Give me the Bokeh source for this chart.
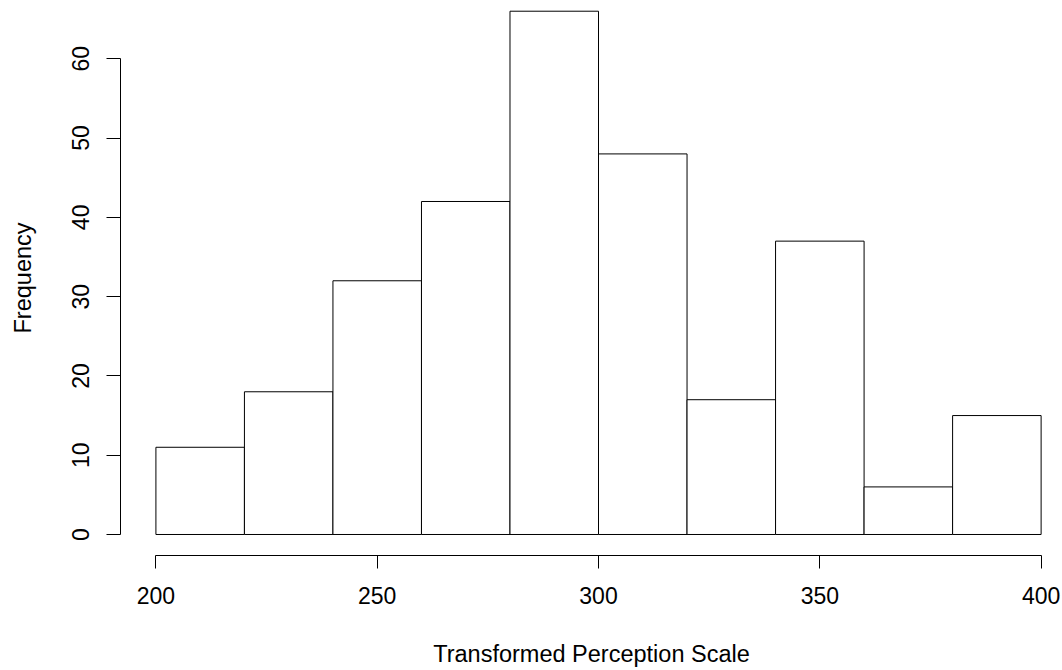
from bokeh.plotting import figure
from bokeh.models import Range1d, FixedTicker
from bokeh.embed import file_html
from bokeh.resources import INLINE

# Histogram data
bin_left = [200, 220, 240, 260, 280, 300, 320, 340, 360, 380]
bin_right = [220, 240, 260, 280, 300, 320, 340, 360, 380, 400]
counts = [11, 18, 32, 42, 66, 48, 17, 37, 6, 15]
x_ticks = [200, 250, 300, 350, 400]
y_ticks = [0, 10, 20, 30, 40, 50, 60]
x_title = "Transformed Perception Scale"
y_title = "Frequency"

FONT = "Liberation Sans"
FS = "23px"
TFS = "23.5px"

p = figure(width=1062, height=670,
           x_range=Range1d(192, 404.83), y_range=Range1d(-2.65, 67.35),
           output_backend="svg", toolbar_location=None,
           min_border_left=120, min_border_right=0,
           min_border_top=0, min_border_bottom=115)

p.quad(left=bin_left, right=bin_right, bottom=0, top=counts,
       fill_color="white", line_color="black", line_width=1)

p.xgrid.visible = False
p.ygrid.visible = False
p.outline_line_color = None
p.background_fill_color = "white"
p.border_fill_color = "white"

xa = p.xaxis[0]
xa.ticker = FixedTicker(ticks=x_ticks)
xa.bounds = (200, 400)
xa.major_tick_out = 13
xa.major_tick_in = 0
xa.minor_tick_line_color = None
xa.axis_line_color = "black"
xa.major_tick_line_color = "black"
xa.major_label_text_font = FONT
xa.major_label_text_font_size = FS
xa.major_label_text_color = "black"
xa.major_label_standoff = 18
xa.axis_label = x_title
xa.axis_label_text_font = FONT
xa.axis_label_text_font_size = TFS
xa.axis_label_text_font_style = "normal"
xa.axis_label_text_color = "black"
xa.axis_label_standoff = 34

ya = p.yaxis[0]
ya.ticker = FixedTicker(ticks=y_ticks)
ya.bounds = (0, 60)
ya.major_tick_out = 14
ya.major_tick_in = 0
ya.minor_tick_line_color = None
ya.axis_line_color = "black"
ya.major_tick_line_color = "black"
ya.major_label_text_font = FONT
ya.major_label_text_font_size = FS
ya.major_label_text_color = "black"
ya.major_label_orientation = "vertical"
ya.major_label_standoff = 17
ya.axis_label = y_title
ya.axis_label_text_font = FONT
ya.axis_label_text_font_size = TFS
ya.axis_label_text_font_style = "normal"
ya.axis_label_text_color = "black"
ya.axis_label_standoff = 34

open("out.html", "w").write(file_html(p, INLINE))
